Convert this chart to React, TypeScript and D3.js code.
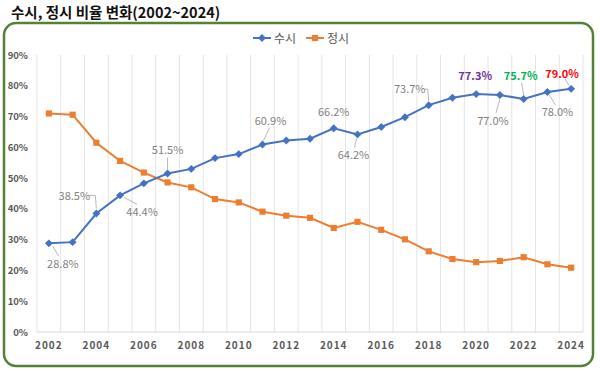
import * as d3 from "d3";

const W = 600;
const H = 371;
const M = { top: 55, left: 37, right: 583, bottom: 332 };

const years = d3.range(2002, 2025).map(String);
const susi = [28.8, 29.2, 38.5, 44.4, 48.3, 51.5, 53.0, 56.5, 57.8, 60.9, 62.2, 62.8, 66.2, 64.2, 66.6, 69.8, 73.7, 76.1, 77.3, 77.0, 75.7, 78.0, 79.0];
const jeongsi = [71.0, 70.6, 61.5, 55.6, 51.8, 48.6, 47.0, 43.2, 42.1, 39.1, 37.8, 37.1, 33.8, 35.8, 33.2, 30.1, 26.2, 23.7, 22.7, 23.1, 24.3, 22.0, 20.9];
const yTicks = [0, 10, 20, 30, 40, 50, 60, 70, 80, 90];
const xLabels = years.filter((_, i) => i % 2 === 0);

// label placement relative to the point, plus leader path
const labels = [
  { year: "2002", dx: 14, dy: 21, leader: [[4, 3], [10, 13]], color: "#7f7f7f", bold: false },
  { year: "2004", dx: -22, dy: -18, leader: [[-7, -18], [-1, -18], [0, -5]], color: "#7f7f7f", bold: false },
  { year: "2005", dx: 22, dy: 17, leader: [[4, 2], [17, 9]], color: "#7f7f7f", bold: false },
  { year: "2007", dx: 0, dy: -23, leader: [[0, -16], [0, -4]], color: "#7f7f7f", bold: false },
  { year: "2011", dx: 8, dy: -24, leader: [[7, -17], [1, -4]], color: "#7f7f7f", bold: false },
  { year: "2014", dx: 0, dy: -16, leader: null, color: "#7f7f7f", bold: false },
  { year: "2015", dx: -4, dy: 21, leader: [[-1, 4], [-3, 13]], color: "#7f7f7f", bold: false },
  { year: "2018", dx: -19, dy: -16, leader: [[-4, -16], [-1, -16], [0, -4]], color: "#7f7f7f", bold: false },
  { year: "2020", dx: -1, dy: -18, leader: null, color: "#7030A0", bold: true },
  { year: "2021", dx: -7, dy: 26, leader: [[0, 4], [-4, 18]], color: "#7f7f7f", bold: false },
  { year: "2022", dx: -3, dy: -23, leader: [[-2, -16], [0, -4]], color: "#00B050", bold: true },
  { year: "2023", dx: 10, dy: 20, leader: [[2, 3], [8, 13]], color: "#7f7f7f", bold: false },
  { year: "2024", dx: -9, dy: -15, leader: [[-6, -10], [-2, -3]], color: "#FF0000", bold: true },
];

const FONT = "'Noto Sans CJK KR', 'Noto Sans', sans-serif";

export default function App() {
  const x = d3.scaleBand<string>().domain(years).range([M.left, M.right]);
  const cx = (yr: string) => (x(yr) ?? 0) + x.bandwidth() / 2;
  const y = d3.scaleLinear().domain([0, 90]).range([M.bottom, M.top]);

  const line = d3
    .line<number>()
    .x((_, i) => cx(years[i]))
    .y((d) => y(d));

  const diamond = d3.symbol(d3.symbolDiamond2, 40)() || "";
  const square = d3.symbol(d3.symbolSquare, 38)() || "";

  const gridX = [...years.map((yr) => x(yr) ?? 0), M.right];

  return (
    <svg width={W} height={H} style={{ position: "absolute", left: 0, top: 0, fontFamily: FONT }}>
      <rect width={W} height={H} fill="#fff" />
      <text x={11} y={18} fontSize={14.5} fontWeight="bold" fill="#111">
        수시, 정시 비율 변화(2002~2024)
      </text>
      <rect x={4} y={23} width={589} height={343} rx={12} fill="#fff" stroke="#548235" strokeWidth={2.5} />

      {gridX.map((gx, i) => (
        <line key={`g-${i}`} x1={gx} x2={gx} y1={M.top} y2={M.bottom} stroke="#e3e3e3" strokeWidth={1} />
      ))}
      <line x1={M.left} x2={M.right} y1={M.bottom} y2={M.bottom} stroke="#d9d9d9" />

      {yTicks.map((t) => (
        <text key={`y-${t}`} x={28} y={y(t) + 3.5} textAnchor="end" fontSize={9.5} fontWeight="bold" fill="#595959">
          {t}%
        </text>
      ))}
      {xLabels.map((yr) => (
        <text key={`x-${yr}`} x={cx(yr)} y={349} textAnchor="middle" fontSize={10} fontWeight="bold" fill="#595959" letterSpacing={1}>
          {yr}
        </text>
      ))}

      <path d={line(jeongsi) || ""} fill="none" stroke="#ED7D31" strokeWidth={2} />
      {jeongsi.map((v, i) => (
        <path key={`j-${i}`} d={square} transform={`translate(${cx(years[i])},${y(v)})`} fill="#ED7D31" />
      ))}
      <path d={line(susi) || ""} fill="none" stroke="#4472C4" strokeWidth={2} />
      {susi.map((v, i) => (
        <path key={`s-${i}`} d={diamond} transform={`translate(${cx(years[i])},${y(v)})`} fill="#4472C4" />
      ))}

      {labels.map((l) => {
        const i = years.indexOf(l.year);
        const px = cx(l.year);
        const py = y(susi[i]);
        return (
          <g key={`l-${l.year}`}>
            {l.leader && (
              <polyline
                points={l.leader.map(([a, b]) => `${px + a},${py + b}`).join(" ")}
                fill="none"
                stroke="#a6a6a6"
                strokeWidth={0.8}
              />
            )}
            <text x={px + l.dx} y={py + l.dy + 4} textAnchor="middle" fontSize={11} fontWeight={l.bold ? "bold" : "normal"} fill={l.color}>
              {susi[i].toFixed(1)}%
            </text>
          </g>
        );
      })}

      <g transform="translate(253,38)">
        <line x1={0} x2={18} y1={0} y2={0} stroke="#4472C4" strokeWidth={2} />
        <path d={diamond} transform="translate(9,0)" fill="#4472C4" />
        <text x={21} y={4.5} fontSize={12} fill="#595959">수시</text>
        <line x1={53} x2={71} y1={0} y2={0} stroke="#ED7D31" strokeWidth={2} />
        <path d={square} transform="translate(62,0)" fill="#ED7D31" />
        <text x={74} y={4.5} fontSize={12} fill="#595959">정시</text>
      </g>
    </svg>
  );
}
